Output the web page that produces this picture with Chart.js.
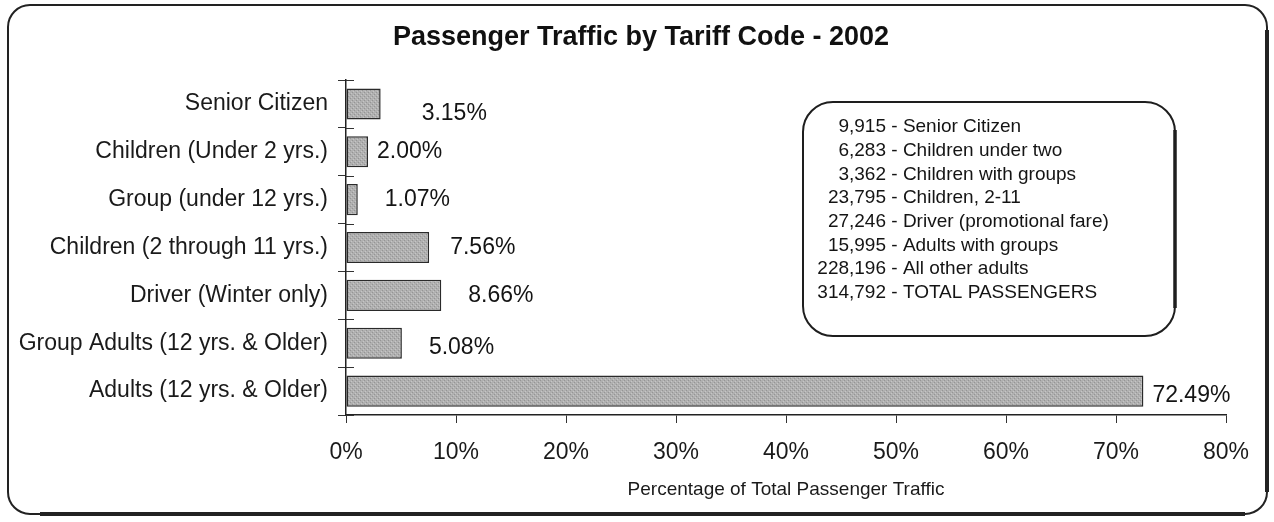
<!DOCTYPE html>
<html>
<head>
<meta charset="utf-8">
<title>Passenger Traffic by Tariff Code - 2002</title>
<script src="https://cdn.jsdelivr.net/npm/chart.js@4.4.0/dist/chart.umd.min.js"></script>
<style>
  html, body { margin: 0; padding: 0; background: #fff; }
  #wrap { position: relative; width: 1274px; height: 522px; }
</style>
</head>
<body>
<div id="wrap"><canvas id="tariffChart"></canvas></div>
<script>
const categories = [
  'Senior Citizen',
  'Children (Under 2 yrs.)',
  'Group (under 12 yrs.)',
  'Children (2 through 11 yrs.)',
  'Driver (Winter only)',
  'Group Adults (12 yrs. & Older)',
  'Adults (12 yrs. & Older)'
];
const shares = [3.15, 2.00, 1.07, 7.56, 8.66, 5.08, 72.49];
const xTicks = [0, 10, 20, 30, 40, 50, 60, 70, 80];

const passengerCounts = ['9,915', '6,283', '3,362', '23,795', '27,246', '15,995', '228,196', '314,792'];
const passengerGroups = [
  'Senior Citizen',
  'Children under two',
  'Children with groups',
  'Children, 2-11',
  'Driver (promotional fare)',
  'Adults with groups',
  'All other adults',
  'TOTAL PASSENGERS'
];

const chartTitle = 'Passenger Traffic by Tariff Code - 2002';

// how far each percentage label sits past its bar end, and how far it drops
const labelGap = [41, 9, 27, 21, 27, 27, 9];
const labelDrop = [10, 0, 0, 0, 0, 4, 5];

const FONT = "'Liberation Sans', Arial, Helvetica, sans-serif";
Chart.defaults.font.family = FONT;
Chart.defaults.color = '#1a1a1a';

// speckled grey fill for the bars
function grainPattern() {
  const c = document.createElement('canvas');
  c.width = 4; c.height = 4;
  const g = c.getContext('2d');
  g.fillStyle = '#b0b0b0'; g.fillRect(0, 0, 4, 4);
  g.fillStyle = '#959595'; g.fillRect(0, 0, 1, 1); g.fillRect(2, 2, 1, 1);
  g.fillStyle = '#c6c6c6'; g.fillRect(1, 3, 1, 1); g.fillRect(3, 1, 1, 1);
  return g.createPattern(c, 'repeat');
}

const pagePlugin = {
  id: 'page',
  beforeDraw(chart) {
    const ctx = chart.ctx;
    ctx.save();
    ctx.fillStyle = '#fff';
    ctx.fillRect(0, 0, chart.width, chart.height);
    ctx.restore();
  },
  afterDraw(chart) {
    const ctx = chart.ctx;
    const { chartArea } = chart;
    ctx.save();

    // title
    ctx.fillStyle = '#111';
    ctx.font = 'bold 27px ' + FONT;
    ctx.textAlign = 'center';
    ctx.textBaseline = 'middle';
    ctx.fillText(chartTitle, 641, 38);

    // short ticks reaching into the plot on the category axis
    ctx.strokeStyle = '#333';
    ctx.lineWidth = 1;
    const step = (chartArea.bottom - chartArea.top) / categories.length;
    for (let i = 0; i <= categories.length; i++) {
      const y = Math.round(chartArea.top + i * step) + 0.5;
      ctx.beginPath();
      ctx.moveTo(chartArea.left, y);
      ctx.lineTo(chartArea.left + 8, y);
      ctx.stroke();
    }

    // outer frame
    ctx.strokeStyle = '#222';
    ctx.lineWidth = 2;
    ctx.beginPath();
    ctx.roundRect(8, 5, 1259, 509, 22);
    ctx.stroke();
    ctx.lineWidth = 4;
    ctx.beginPath();
    ctx.moveTo(1267, 30);
    ctx.lineTo(1267, 492);
    ctx.stroke();
    ctx.beginPath();
    ctx.moveTo(40, 514);
    ctx.lineTo(1245, 514);
    ctx.stroke();

    // passenger count box
    ctx.lineWidth = 2;
    ctx.strokeStyle = '#1e1e1e';
    ctx.beginPath();
    ctx.roundRect(803, 102, 372, 234, 30);
    ctx.stroke();
    ctx.lineWidth = 3.5;
    ctx.beginPath();
    ctx.moveTo(1175, 130);
    ctx.lineTo(1175, 308);
    ctx.stroke();

    ctx.fillStyle = '#141414';
    ctx.font = '19px ' + FONT;
    passengerCounts.forEach((n, i) => {
      const y = 127 + i * 23.7;
      ctx.textAlign = 'right';
      ctx.fillText(n, 886, y);
      ctx.textAlign = 'left';
      ctx.fillText(' - ' + passengerGroups[i], 886, y);
    });

    // percentage labels beside the bars
    const meta = chart.getDatasetMeta(0);
    ctx.font = '23px ' + FONT;
    ctx.textAlign = 'left';
    meta.data.forEach((bar, i) => {
      ctx.fillText(shares[i].toFixed(2) + '%', bar.x + labelGap[i], bar.y + labelDrop[i]);
    });
    ctx.restore();
  }
};

new Chart(document.getElementById('tariffChart'), {
  type: 'bar',
  data: {
    labels: categories,
    datasets: [{
      data: shares,
      backgroundColor: grainPattern(),
      borderColor: '#2a2a2a',
      borderWidth: 1.5,
      borderSkipped: false,
      barPercentage: 0.65,
      categoryPercentage: 1
    }]
  },
  options: {
    indexAxis: 'y',
    responsive: true,
    maintainAspectRatio: false,
    animation: false,
    layout: { padding: { top: 80, right: 48, bottom: 17, left: 0 } },
    plugins: {
      legend: { display: false },
      tooltip: { enabled: false },
      title: { display: false }
    },
    scales: {
      x: {
        min: 0,
        max: 80,
        afterBuildTicks(scale) {
          scale.ticks = xTicks.map(v => ({ value: v }));
        },
        afterFit(scale) { scale.height = 90; },
        ticks: {
          font: { size: 23 },
          color: '#1a1a1a',
          padding: 16,
          callback: v => v + '%'
        },
        grid: {
          drawOnChartArea: false,
          drawTicks: true,
          tickLength: 8,
          color: '#333',
          lineWidth: 1
        },
        border: { display: true, color: '#222', width: 1.5 },
        title: {
          display: true,
          text: 'Percentage of Total Passenger Traffic',
          font: { size: 19 },
          color: '#1a1a1a',
          padding: { top: 0, bottom: 4 }
        }
      },
      y: {
        afterFit(scale) { scale.width = 346; },
        ticks: {
          font: { size: 23 },
          color: '#1a1a1a',
          padding: 10
        },
        grid: {
          offset: true,
          drawOnChartArea: false,
          drawTicks: true,
          tickLength: 8,
          color: '#333',
          lineWidth: 1
        },
        border: { display: true, color: '#222', width: 1.5 }
      }
    }
  },
  plugins: [pagePlugin]
});
</script>
</body>
</html>
